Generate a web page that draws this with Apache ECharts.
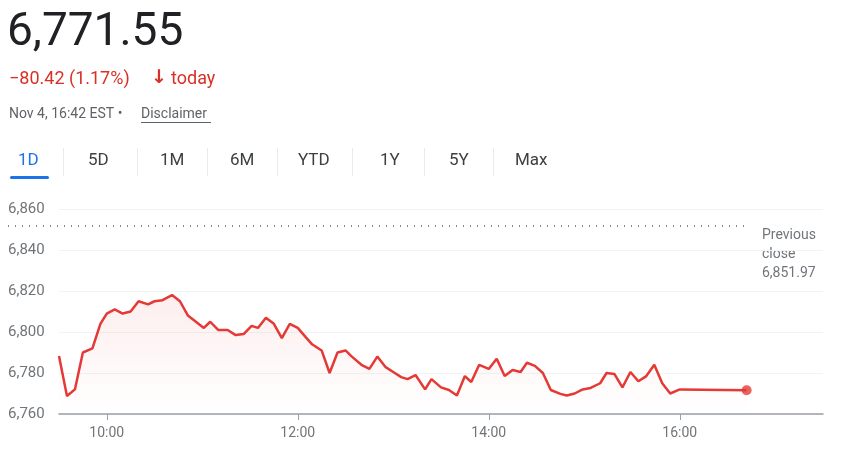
<!DOCTYPE html>
<html>
<head>
<meta charset="utf-8">
<script src="https://cdn.jsdelivr.net/npm/echarts@6/dist/echarts.min.js"></script>
<style>
  html, body { margin: 0; padding: 0; background: #fff; }
  #chart { width: 842px; height: 451px; }
</style>
</head>
<body>
<div id="chart"></div>
<script>
var times = ['9:30','9:35','9:40','9:45','9:51','9:56','10:00','10:05','10:10','10:15','10:20','10:26','10:30','10:35','10:41','10:46','10:51','10:56','11:01','11:05','11:10','11:16','11:21','11:26','11:31','11:35','11:40','11:45','11:50','11:55','12:00','12:05','12:09','12:15','12:20','12:25','12:30','12:34','12:40','12:45','12:50','12:55','13:00','13:05','13:09','13:14',
    '13:20','13:24','13:30','13:35','13:40','13:45','13:49','13:54','14:00','14:05','14:10','14:15','14:20','14:24','14:29','14:34','14:39','14:45','14:49','14:54','14:59','15:04','15:10','15:14','15:19','15:24','15:29','15:34','15:39','15:44','15:49','15:54','16:00','16:42'];
var prices = [6788.3,6768.8,6772,6790,6792,6804,6809,6811,6809,6810,6815,6813.5,6815,6815.5,6818,6815,6808,6805,6802,6805,6801,6801,6798.5,6799,6803,6802,6807,6804,6797,6804,6802,6797.5,6794,6791,6780,6790,6791,6788,6784,6782,6788,6783,6780.5,6778,6777,6779,
    6772,6777,6773,6771.7,6769,6778.5,6775.6,6784,6782,6787,6778.5,6781.5,6780.5,6785,6783.5,6780,6771.7,6769.8,6769,6770,6772,6772.7,6775,6780,6779.5,6773,6780.5,6776,6778.5,6784,6775,6770,6772,6771.55];
var hourTicks = ['10:00','12:00','14:00','16:00'];
var previousClose = 6851.97;
var tabs = ['1D','5D','1M','6M','YTD','1Y','5Y','Max'];

function toMin(t) {
    var p = t.split(':');
    return +p[0] * 60 + +p[1];
}
function fmtMin(v) {
    var h = Math.floor(v / 60), m = v % 60;
    return h + ':' + (m < 10 ? '0' + m : m);
}

var points = [];
for (var i = 0; i < times.length; i++) {
    points.push([toMin(times[i]), prices[i]]);
}
var last = points[points.length - 1];

var font = 'Roboto, Arial, sans-serif';
var tabX = [18, 88, 160, 230, 298, 380, 449, 515];
var sepX = [63, 137, 207, 277, 352, 424, 493];
var graphics = [
    { type: 'text', left: 7, top: 10, style: { text: '6,771.55', fontSize: 46, fontFamily: font, fill: '#202124' } },
    { type: 'text', left: 9, top: 70, style: { text: '\u221280.42 (1.17%)', fontSize: 18, fontFamily: font, fill: '#d93025' } },
    { type: 'text', left: 151, top: 69, style: { text: '\u2193', fontSize: 19, fontWeight: 'bold', fontFamily: 'DejaVu Sans', fill: '#d93025' } },
    { type: 'text', left: 171, top: 70, style: { text: 'today', fontSize: 18, fontFamily: font, fill: '#d93025' } },
    { type: 'text', left: 9, top: 107, style: { text: 'Nov 4, 16:42 EST \u2022', fontSize: 14, fontFamily: font, fill: '#5f6368' } },
    { type: 'text', left: 141, top: 107, style: { text: 'Disclaimer', fontSize: 14, fontFamily: font, fill: '#5f6368' } },
    { type: 'rect', left: 141, top: 122, shape: { width: 70, height: 1 }, style: { fill: '#5f6368' } },
    { type: 'rect', left: 10, top: 176, shape: { width: 39, height: 3, r: 1.5 }, style: { fill: '#1a73e8' } }
];
for (var k = 0; k < tabs.length; k++) {
    graphics.push({ type: 'text', left: tabX[k], top: 152, style: { text: tabs[k], fontSize: 17, fontFamily: font, fill: k === 0 ? '#1a73e8' : '#3c4043' } });
}
for (var s = 0; s < sepX.length; s++) {
    graphics.push({ type: 'rect', left: sepX[s], top: 148, shape: { width: 1, height: 28 }, style: { fill: '#e8eaed' } });
}
graphics.push({ type: 'text', left: 762, top: 226, style: { text: 'Previous\nclose\n' + previousClose.toLocaleString('en-US'), fontSize: 14, lineHeight: 19, fontFamily: font, fill: '#70757a' } });

var chart = echarts.init(document.getElementById('chart'));
chart.setOption({
    animation: false,
    grid: { left: 59, right: 19, top: 209, bottom: 37 },
    graphic: graphics,
    xAxis: {
        type: 'value',
        min: 570,
        max: 1050,
        axisLine: { lineStyle: { color: '#9aa0a6', width: 1.5 } },
        axisTick: { customValues: hourTicks.map(toMin), length: 6, lineStyle: { color: '#9aa0a6' } },
        axisLabel: { customValues: hourTicks.map(toMin), formatter: fmtMin, color: '#70757a', fontSize: 14, fontFamily: font, margin: 12 },
        splitLine: { show: false }
    },
    yAxis: {
        type: 'value',
        min: 6760,
        max: 6860,
        interval: 20,
        axisLine: { show: false },
        axisTick: { show: false },
        axisLabel: { color: '#70757a', fontSize: 15, fontFamily: font, margin: 51, align: 'left',
            formatter: function (v) { return v.toLocaleString('en-US'); } },
        splitLine: { lineStyle: { color: '#f1f3f4' } }
    },
    series: [{
        type: 'line',
        data: points,
        symbol: 'none',
        lineStyle: { color: '#e53935', width: 2.5 },
        areaStyle: {
            origin: 'start',
            color: new echarts.graphic.LinearGradient(0, 0, 0, 1, [
                { offset: 0, color: 'rgba(229,57,53,0.12)' },
                { offset: 1, color: 'rgba(229,57,53,0)' }
            ])
        },
        markLine: {
            silent: true,
            symbol: 'none',
            label: { show: false },
            lineStyle: { color: '#5f6368', type: [1, 6], width: 1.5 },
            data: [[{ coord: [570, previousClose], x: 8 }, { coord: [1050, previousClose], x: 750 }]]
        }
    }, {
        type: 'scatter',
        data: [last],
        symbolSize: 10,
        itemStyle: { color: '#e53935' }
    }]
});
</script>
</body>
</html>
